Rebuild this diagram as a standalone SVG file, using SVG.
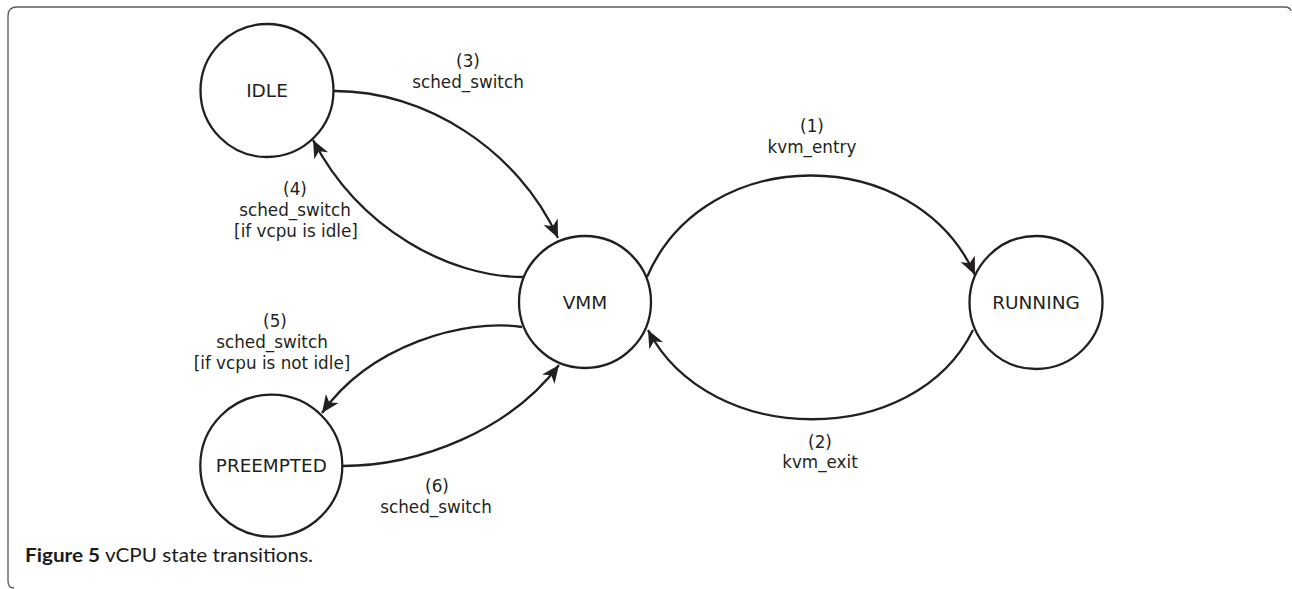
<svg xmlns="http://www.w3.org/2000/svg" width="1292" height="589" viewBox="0 0 1292 589">
<style>
.bg{fill:#ffffff}
.frame{fill:none;stroke:#5a5b5d;stroke-width:1.3}
.node{fill:#ffffff;stroke:#231f20;stroke-width:2.3}
.edge{fill:none;stroke:#231f20;stroke-width:2.3}
.nl{font-family:"DejaVu Sans",sans-serif;font-size:18.5px;fill:#231f20;text-anchor:middle}
.el{font-family:"DejaVu Sans",sans-serif;font-size:16.8px;fill:#231f20;text-anchor:middle}
.cap{font-family:Lato,"Liberation Sans",sans-serif;font-size:19px;fill:#1a1a1a}
</style>
<defs>
<marker id="arr" markerUnits="userSpaceOnUse" markerWidth="20" markerHeight="20" viewBox="-17 -8 18 16" refX="0" refY="0" orient="auto">
<path d="M0,0 L-16,-7 L-11.5,0 L-16,7 Z" fill="#231f20"/>
</marker>
</defs>
<rect class="bg" x="0" y="0" width="1292" height="589"/>
<path class="frame" d="M14,588 Q8,588 8,581 L8,16 Q8,7 17,7 L1285,7 Q1290,7 1291,11"/>
<g id="connectors">
<path id="e3" class="edge" d="M333,91 C425,90 518,150 558,238" marker-end="url(#arr)"/>
<path id="e4" class="edge" d="M523,277 C450,277 360,230 313,140" marker-end="url(#arr)"/>
<path id="e1" class="edge" d="M647,277 C705,142 915,142 975,275" marker-end="url(#arr)"/>
<path id="e2" class="edge" d="M973,330 C915,449 710,449 648,330" marker-end="url(#arr)"/>
<path id="e5" class="edge" d="M522,327 C465,318 370,345 322,413" marker-end="url(#arr)"/>
<path id="e6" class="edge" d="M342,466 C420,466 510,430 559,365" marker-end="url(#arr)"/>
</g>
<g id="labels">
<text class="el" x="468" y="67">(3)</text>
<text class="el" x="468" y="88">sched_switch</text>
<text class="el" x="812" y="132">(1)</text>
<text class="el" x="812" y="153">kvm_entry</text>
<text class="el" x="295" y="195">(4)</text>
<text class="el" x="295" y="216">sched_switch</text>
<text class="el" x="296" y="237">[if vcpu is idle]</text>
<text class="el" x="275" y="327">(5)</text>
<text class="el" x="272" y="348">sched_switch</text>
<text class="el" x="272" y="369">[if vcpu is not idle]</text>
<text class="el" x="820" y="448">(2)</text>
<text class="el" x="820" y="468">kvm_exit</text>
<text class="el" x="437" y="492">(6)</text>
<text class="el" x="436" y="513">sched_switch</text>
</g>
<g id="IDLE">
<circle class="node" cx="267" cy="90.5" r="66.5"/>
<text class="nl" x="267" y="97">IDLE</text>
</g>
<g id="VMM">
<circle class="node" cx="585" cy="302" r="66"/>
<text class="nl" x="585" y="308.5">VMM</text>
</g>
<g id="RUNNING">
<circle class="node" cx="1036" cy="302.5" r="66.5"/>
<text class="nl" x="1036" y="309">RUNNING</text>
</g>
<g id="PREEMPTED">
<circle class="node" cx="271.3" cy="465.7" r="71"/>
<text class="nl" x="271.3" y="472" textLength="111" lengthAdjust="spacingAndGlyphs">PREEMPTED</text>
</g>
<text class="cap" x="25" y="562" textLength="288" lengthAdjust="spacingAndGlyphs"><tspan font-weight="bold">Figure 5</tspan> vCPU state transitions.</text>
</svg>
